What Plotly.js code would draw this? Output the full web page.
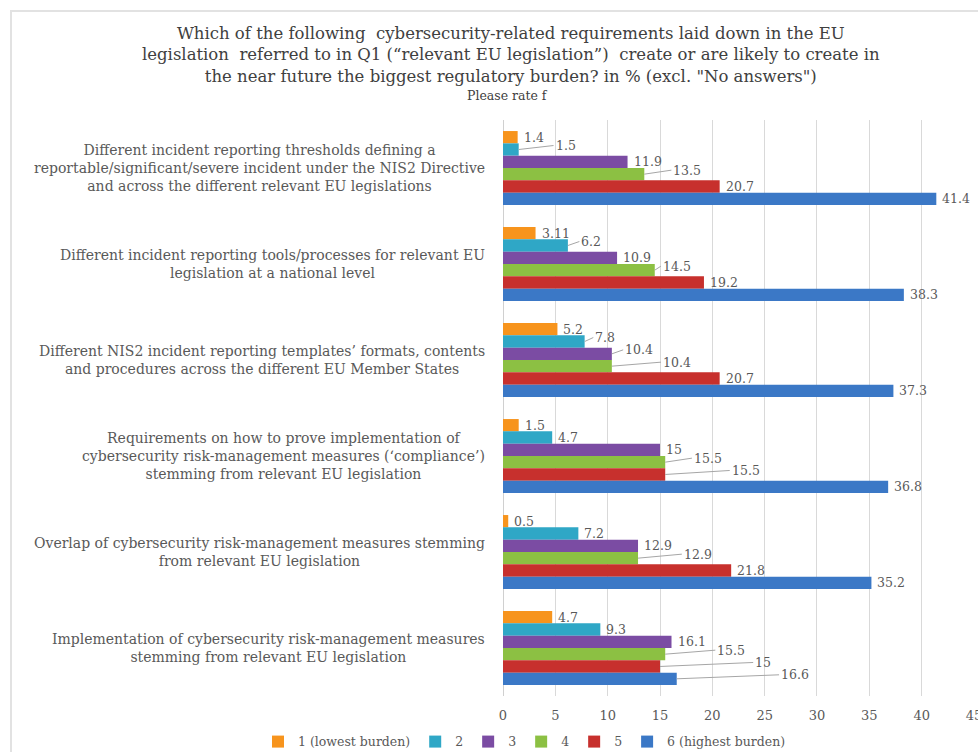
<!DOCTYPE html>
<html>
<head>
<meta charset="utf-8">
<script src="https://cdn.plot.ly/plotly-3.0.1.min.js"></script>
<style>
  html, body { margin: 0; padding: 0; background: #ffffff; }
  #wrap { position: relative; width: 978px; height: 752px; overflow: hidden; }
  #chart { width: 978px; height: 752px; }
  #frame { position: absolute; left: 10px; top: 10px; width: 980px; height: 760px;
           border-left: 2px solid #e2e2e2; border-top: 2px solid #e2e2e2; pointer-events: none; }
</style>
</head>
<body>
<div id="wrap">
  <div id="chart"></div>
  <div id="frame"></div>
</div>
<script>
const titleLines = [
  "Which of the following  cybersecurity-related requirements laid down in the EU",
  "legislation  referred to in Q1 (“relevant EU legislation”)  create or are likely to create in",
  "the near future the biggest regulatory burden? in % (excl. \"No answers\")"
];
const subtitle = "Please rate f";
const categories = [
  "Different incident reporting thresholds defining a<br>reportable/significant/severe incident under the NIS2 Directive<br>and across the different relevant EU legislations",
  "Different incident reporting tools/processes for relevant EU<br>legislation at a national level",
  "Different NIS2 incident reporting templates’ formats, contents<br>and procedures across the different EU Member States",
  "Requirements on how to prove implementation of<br>cybersecurity risk-management measures (‘compliance’)<br>stemming from relevant EU legislation",
  "Overlap of cybersecurity risk-management measures stemming<br>from relevant EU legislation",
  "Implementation of cybersecurity risk-management measures<br>stemming from relevant EU legislation"
];
const seriesNames = ["1 (lowest burden)", "2", "3", "4", "5", "6 (highest burden)"];
const burden1 = [1.4, 3.11, 5.2, 1.5, 0.5, 4.7];
const burden2 = [1.5, 6.2, 7.8, 4.7, 7.2, 9.3];
const burden3 = [11.9, 10.9, 10.4, 15, 12.9, 16.1];
const burden4 = [13.5, 14.5, 10.4, 15.5, 12.9, 15.5];
const burden5 = [20.7, 19.2, 20.7, 15.5, 21.8, 15];
const burden6 = [41.4, 38.3, 37.3, 36.8, 35.2, 16.6];
const xTicks = [0, 5, 10, 15, 20, 25, 30, 35, 40, 45];
const xMax = 45;

const seriesValues = [burden1, burden2, burden3, burden4, burden5, burden6];
const colors = ["#F7941D", "#2FA7C6", "#7B4CA3", "#8CC043", "#C7302D", "#3B78C6"];
const serif = "DejaVu Serif, Liberation Serif, serif";
const gray = "#595959";
const bargap = 0.23;

const traces = seriesValues.map((vals, i) => ({
  type: "bar",
  orientation: "h",
  name: seriesNames[i],
  y: categories,
  x: vals,
  marker: { color: colors[i] },
  hoverinfo: "x+name"
}));

// paper coordinates for pixel positions (plot area spans x 503..974, y 119.5..696)
const plotLeft = 503, plotRight = 974, plotTop = 119.5, plotBottom = 696;
const px = p => (p - plotLeft) / (plotRight - plotLeft);
const py = p => (plotBottom - p) / (plotBottom - plotTop);

const annotations = categories.map(c => ({
  xref: "paper", yref: "y",
  x: px(487), y: c,
  xanchor: "right", yanchor: "middle",
  align: "center",
  text: c,
  showarrow: false,
  font: { family: serif, size: 14, color: gray }
}));

annotations.push({
  xref: "paper", yref: "paper",
  x: px(511), y: py(54),
  xanchor: "center", yanchor: "middle",
  align: "center",
  text: titleLines.join("<br>"), showarrow: false,
  font: { family: serif, size: 16.5, color: "#404040" }
});
annotations.push({
  xref: "paper", yref: "paper",
  x: px(507), y: py(95),
  xanchor: "center", yanchor: "middle",
  text: subtitle, showarrow: false,
  font: { family: serif, size: 12.5, color: "#404040" }
});

// Data labels: placed right of each bar end; when a label would collide with the
// label of the bar just above it, it is pushed right and joined by a leader line.
const labelSize = 12.5;
const charW = ch => (ch === "." ? 0.318 : 0.636) * labelSize;
const ppu = (plotRight - plotLeft) / xMax;
const slot = (1 - bargap) / seriesValues.length;
categories.forEach((c, j) => {
  let prevRight = -Infinity;
  seriesValues.forEach((vals, i) => {
    const v = vals[j];
    const txt = String(v);
    const end = v * ppu;
    const w = [...txt].reduce((s, ch) => s + charW(ch), 0) + 4;
    let left = end + 6;
    let shifted = false;
    if (left < prevRight + 6) { left = prevRight + 6; shifted = true; }
    prevRight = left + w;
    const yPos = j - (1 - bargap) / 2 + (i + 0.5) * slot;
    const base = {
      xref: "x", yref: "y", x: v, y: yPos,
      text: txt, xanchor: "left", yanchor: "middle",
      font: { family: serif, size: labelSize, color: gray }
    };
    if (shifted) {
      annotations.push(Object.assign(base, {
        showarrow: true, arrowhead: 0, arrowwidth: 1, arrowcolor: "#a6a6a6",
        standoff: 0, ax: left - end, ay: -4
      }));
    } else {
      annotations.push(Object.assign(base, { showarrow: false, xshift: 4 }));
    }
  });
});

const layout = {
  width: 978, height: 752,
  margin: { l: plotLeft, r: 978 - plotRight, t: plotTop, b: 752 - plotBottom, autoexpand: false },
  paper_bgcolor: "#ffffff",
  plot_bgcolor: "#ffffff",
  barmode: "group",
  bargap: bargap,
  bargroupgap: 0,
  showlegend: true,
  xaxis: {
    range: [0, xMax + 0.001],
    tickvals: xTicks,
    ticktext: xTicks.map(String),
    ticklabeloverflow: "allow",
    showgrid: true,
    gridcolor: "#d9d9d9",
    gridwidth: 1,
    zeroline: true,
    zerolinecolor: "#d0d0d0",
    showline: false,
    ticks: "",
    tickfont: { family: serif, size: 13, color: gray },
    ticklabelstandoff: 10
  },
  yaxis: {
    autorange: "reversed",
    showticklabels: false,
    showgrid: false,
    zeroline: false,
    ticks: ""
  },
  legend: {
    orientation: "h",
    xref: "paper", yref: "paper",
    x: px(258), xanchor: "left",
    y: py(742), yanchor: "middle",
    bgcolor: "rgba(0,0,0,0)",
    font: { family: serif, size: 12.5, color: gray },
    traceorder: "normal",
    itemwidth: 30,
    tracegroupgap: 0
  },
  annotations: annotations
};

Plotly.newPlot("chart", traces, layout, { displayModeBar: false });
</script>
</body>
</html>
